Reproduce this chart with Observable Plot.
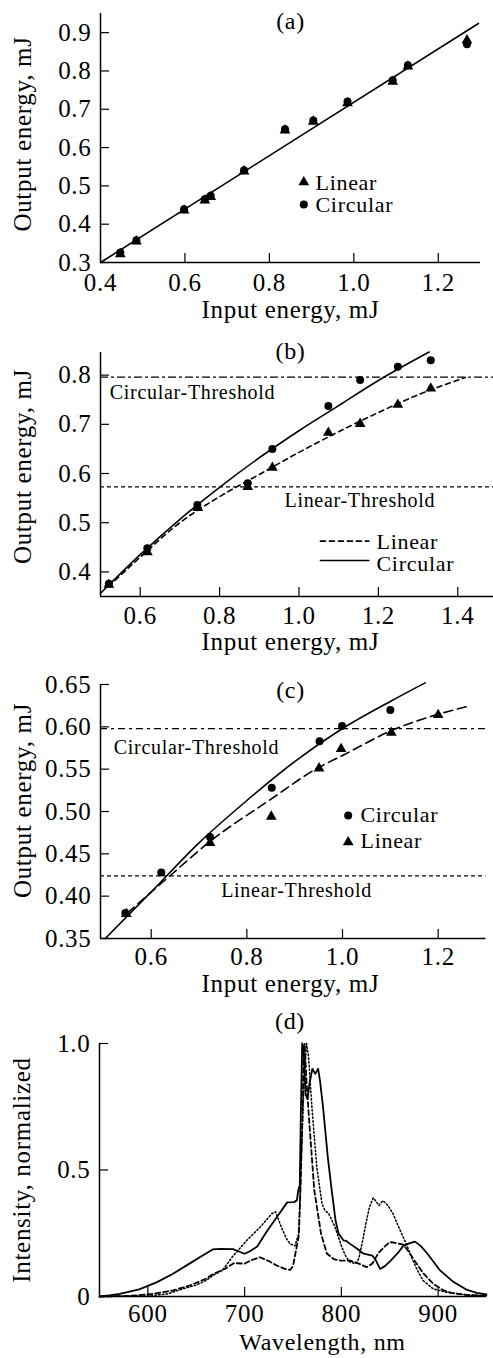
<!DOCTYPE html>
<html><head><meta charset="utf-8">
<script src="https://cdn.jsdelivr.net/npm/d3@7"></script>
<script src="https://cdn.jsdelivr.net/npm/@observablehq/plot@0.6"></script>
<style>
body{margin:0;background:#fff;}
#chart{width:493px;}
#chart svg{display:block;}
#chart svg text{letter-spacing:0.7px;}
</style>
</head><body><div id="chart"></div>
<script>
// ---------- Panel (a) data ----------
const aX      = [0.447,0.485,0.598,0.647,0.661,0.740,0.837,0.904,0.985,1.092,1.128,1.268];
const aLinY   = [0.322,0.355,0.436,0.462,0.471,0.538,0.645,0.668,0.716,0.772,0.812,0.880];
const aCirY   = [0.326,0.358,0.439,0.465,0.474,0.541,0.648,0.671,0.720,0.776,0.815,0.870];
const aFitX   = [0.4,1.295];
const aFitY   = [0.3,0.924];
const aXTicks = [0.4,0.6,0.8,1.0,1.2];
const aYTicks = [0.3,0.4,0.5,0.6,0.7,0.8,0.9];

// ---------- Panel (b) data ----------
const bCirX = [0.521,0.618,0.744,0.871,0.933,1.074,1.154,1.249,1.332];
const bCirY = [0.376,0.448,0.536,0.580,0.650,0.737,0.790,0.817,0.830];
const bLinX = [0.521,0.618,0.745,0.871,0.933,1.074,1.154,1.249,1.332];
const bLinY = [0.374,0.440,0.530,0.573,0.612,0.683,0.701,0.740,0.773];
const bCirFitX = [0.502,0.6,0.7,0.8,0.9,1.0,1.1,1.2,1.328];
const bCirFitY = [0.358,0.435,0.507,0.572,0.632,0.687,0.738,0.789,0.847];
const bLinFitX = [0.52,0.6,0.7,0.8,0.9,1.0,1.1,1.2,1.3,1.419];
const bLinFitY = [0.370,0.430,0.500,0.553,0.598,0.643,0.685,0.724,0.760,0.795];
const bThrCir = 0.796, bThrLin = 0.573;
const bXTicks = [0.6,0.8,1.0,1.2,1.4];
const bYTicks = [0.4,0.5,0.6,0.7,0.8];

// ---------- Panel (c) data ----------
const cCirX = [0.546,0.621,0.723,0.852,0.952,0.999,1.100];
const cCirY = [0.380,0.428,0.470,0.528,0.583,0.601,0.620];
const cLinX = [0.548,0.723,0.851,0.951,0.997,1.102,1.200];
const cLinY = [0.379,0.463,0.494,0.551,0.574,0.593,0.614];
const cCirFitX = [0.504,0.6,0.7,0.8,0.9,1.0,1.1,1.173];
const cCirFitY = [0.350,0.405,0.463,0.513,0.559,0.598,0.630,0.652];
const cLinFitX = [0.55,0.633,0.724,0.849,0.947,1.003,1.1,1.201,1.261];
const cLinFitY = [0.380,0.421,0.465,0.514,0.551,0.567,0.595,0.615,0.624];
const cThrCir = 0.598, cThrLin = 0.424;
const cXTicks = [0.6,0.8,1.0,1.2];
const cYTicks = [0.35,0.40,0.45,0.50,0.55,0.60,0.65];

// ---------- Panel (d) data ----------
const solidWl = [550,560,571,591,609,626,643,657,667,675,688,694,700,706,713,723,733,744,751,754,755.5,757,758,759.5,761,763,765,767,770,773,776,778,781,786,790,794,797,802,805,809,816,823,832,836,840,845,851,858,864,870,876,882,889,902,916,930,940,950];
const solidI  = [0,0.004,0.01,0.028,0.056,0.09,0.13,0.163,0.186,0.188,0.187,0.178,0.169,0.18,0.198,0.258,0.312,0.372,0.373,0.38,0.42,0.44,0.7,1.0,0.98,0.8,0.78,0.84,0.9,0.88,0.9,0.85,0.75,0.55,0.42,0.3,0.25,0.222,0.22,0.208,0.19,0.169,0.162,0.14,0.109,0.12,0.142,0.17,0.2,0.21,0.217,0.2,0.169,0.103,0.057,0.026,0.014,0.008];
const dashWl  = [550,580,605,626,643,660,668,680,689,700,708,716,725,733,741,747,750,753,756,758,759.7,761,762,764,767,772,779,785,792,799,809,818,826,832,838,844,850,856,864,870,875,885,895,905,915,930,950];
const dashI   = [0,0.002,0.01,0.024,0.043,0.07,0.09,0.11,0.132,0.13,0.145,0.155,0.14,0.123,0.11,0.105,0.12,0.18,0.24,0.45,0.7,0.97,1.0,0.85,0.68,0.42,0.248,0.17,0.148,0.142,0.142,0.13,0.116,0.13,0.17,0.195,0.215,0.212,0.205,0.175,0.145,0.09,0.05,0.025,0.013,0.006,0.003];
const dotWl   = [550,600,620,636,650,660,668,677,688,695,702,716,728,732,738,743,747,752,756,759,762,764,766,769.5,774.6,780,783,787,793.5,800.5,805,809,815,818,822,826,829,833,836,839,843,848,853.5,858,864,869,874,879,884.5,895,908,930,950];
const dotI    = [0,0.002,0.01,0.03,0.045,0.063,0.085,0.103,0.16,0.19,0.221,0.274,0.327,0.335,0.274,0.23,0.208,0.2,0.25,0.6,0.9,1.0,0.95,0.75,0.511,0.366,0.34,0.327,0.274,0.195,0.155,0.136,0.13,0.15,0.221,0.3,0.353,0.39,0.375,0.36,0.379,0.36,0.327,0.285,0.234,0.19,0.142,0.1,0.063,0.03,0.017,0.006,0.003];
const dXTicks = [600,700,800,900];
const dYTicks = [0,0.5,1.0];

// ---------- helpers ----------
const FONT = "'Liberation Serif','Times New Roman',Times,serif";
const W = 493;
const pts = (xs, ys) => xs.map((x, i) => ({x, y: ys[i]}));
const f1 = d3.format(".1f"), f2 = d3.format(".2f");

function frame({xd, yd, xt, yt, iw, ih, xfmt, yfmt, xpad}) {
  return [
    Plot.ruleX([xd[0]], {strokeWidth: 1.5}),
    Plot.ruleY([yd[0]], {strokeWidth: 1.5}),
    Plot.tickX(xt, {x: d => d, insetTop: ih - 9, strokeWidth: 1.2}),
    Plot.tickY(yt, {y: d => d, insetRight: iw - 9, strokeWidth: 1.2}),
    Plot.axisX(xt, {tickSize: 0, tickPadding: xpad, tickFormat: xfmt, fontSize: 25, label: null}),
    Plot.axisY(yt, {tickSize: 0, tickPadding: 9, tickFormat: yfmt, fontSize: 25, label: null})
  ];
}
function labels({xl, yl, xdx = 0, xdy, xfs = 25, ydy = 0, title, tdx = 0, tdy}) {
  return [
    Plot.text([xl], {frameAnchor: "bottom", textAnchor: "middle", lineAnchor: "bottom", dx: xdx, dy: xdy, fontSize: xfs}),
    Plot.text([yl], {frameAnchor: "left", textAnchor: "middle", rotate: -90, lineAnchor: "middle", dx: -78, dy: ydy, fontSize: 25}),
    Plot.text([title], {frameAnchor: "top", textAnchor: "middle", lineAnchor: "bottom", dx: tdx, dy: tdy, fontSize: 24})
  ];
}
const leg = (t, dx, dy) => Plot.text([t], {frameAnchor: "top-left", textAnchor: "start", lineAnchor: "bottom", dx, dy, fontSize: 22});
const thr = (t, dx, dy) => Plot.text([t], {frameAnchor: "top-left", textAnchor: "start", lineAnchor: "bottom", dx, dy, fontSize: 20});
const sym = (s, dx, dy) => Plot.dot([0], {frameAnchor: "top-left", dx, dy, symbol: s, r: 4, fill: "black", stroke: "none"});
const style = {fontFamily: FONT, background: "white", overflow: "visible", color: "black"};

// ---------- Panel (a) ----------
const A = {h: 330, mt: 13, mb: 68, ml: 100, mr: 13, xd: [0.4, 1.3], yd: [0.3, 0.95]};
const plotA = Plot.plot({
  width: W, height: A.h, marginTop: A.mt, marginBottom: A.mb, marginLeft: A.ml, marginRight: A.mr,
  x: {domain: A.xd}, y: {domain: A.yd}, style,
  marks: [
    ...frame({xd: A.xd, yd: A.yd, xt: aXTicks, yt: aYTicks, iw: W - A.ml - A.mr, ih: A.h - A.mt - A.mb, xfmt: f1, yfmt: f1, xpad: 10.5}),
    Plot.line(pts(aFitX, aFitY), {x: "x", y: "y", strokeWidth: 1.6}),
    Plot.dot(pts(aX, aLinY), {x: "x", y: "y", symbol: "triangle", r: 4, fill: "black"}),
    Plot.dot(pts(aX, aCirY), {x: "x", y: "y", symbol: "circle", r: 4, fill: "black"}),
    sym("triangle", 203.3, 168.7), leg("Linear", 215, 176),
    sym("circle", 203.3, 191), leg("Circular", 215, 198.7),
    ...labels({xl: "Input energy, mJ", yl: "Output energy, mJ", xdy: 55, ydy: -4, title: "(a)", tdy: 15.5})
  ]
});

// ---------- Panel (b) ----------
const B = {h: 330, mt: 22, mb: 64, ml: 100, mr: 0, xd: [0.5, 1.49], yd: [0.35, 0.846]};
const plotB = Plot.plot({
  width: W, height: B.h, marginTop: B.mt, marginBottom: B.mb, marginLeft: B.ml, marginRight: B.mr,
  x: {domain: B.xd}, y: {domain: B.yd}, style,
  marks: [
    ...frame({xd: B.xd, yd: B.yd, xt: bXTicks, yt: bYTicks, iw: W - B.ml - B.mr, ih: B.h - B.mt - B.mb, xfmt: f1, yfmt: f1, xpad: 9.5}),
    Plot.ruleY([bThrCir], {strokeWidth: 1.3, strokeDasharray: "8,3,3,3"}),
    Plot.ruleY([bThrLin], {strokeWidth: 1.3, strokeDasharray: "4,3"}),
    Plot.line(pts(bCirFitX, bCirFitY), {x: "x", y: "y", curve: "monotone-x", strokeWidth: 1.6}),
    Plot.line(pts(bLinFitX, bLinFitY), {x: "x", y: "y", curve: "monotone-x", strokeWidth: 1.6, strokeDasharray: "5,4"}),
    Plot.dot(pts(bLinX, bLinY), {x: "x", y: "y", symbol: "triangle", r: 4, fill: "black"}),
    Plot.dot(pts(bCirX, bCirY), {x: "x", y: "y", symbol: "circle", r: 4, fill: "black"}),
    thr("Circular-Threshold", 9.3, 46.3),
    thr("Linear-Threshold", 184, 154.7),
    Plot.line(pts([1.054, 1.176], [0.4625, 0.4625]), {x: "x", y: "y", strokeWidth: 1.6, strokeDasharray: "5,4"}),
    Plot.line(pts([1.054, 1.176], [0.4232, 0.4232]), {x: "x", y: "y", strokeWidth: 1.6}),
    leg("Linear", 276, 196.3), leg("Circular", 276, 218.7),
    ...labels({xl: "Input energy, mJ", yl: "Output energy, mJ", xdx: -6.5, xdy: 53, ydy: -8, title: "(b)", tdx: -6.5, tdy: 6.5})
  ]
});

// ---------- Panel (c) ----------
const C = {h: 340, mt: 24, mb: 62, ml: 100, mr: 7.5, xd: [0.494, 1.3], yd: [0.35, 0.65]};
const plotC = Plot.plot({
  width: W, height: C.h, marginTop: C.mt, marginBottom: C.mb, marginLeft: C.ml, marginRight: C.mr,
  x: {domain: C.xd}, y: {domain: C.yd}, style,
  marks: [
    ...frame({xd: C.xd, yd: C.yd, xt: cXTicks, yt: cYTicks, iw: W - C.ml - C.mr, ih: C.h - C.mt - C.mb, xfmt: f1, yfmt: f2, xpad: 9}),
    Plot.ruleY([cThrCir], {strokeWidth: 1.3, strokeDasharray: "7,4,3,4"}),
    Plot.ruleY([cThrLin], {strokeWidth: 1.3, strokeDasharray: "4,3"}),
    Plot.line(pts(cCirFitX, cCirFitY), {x: "x", y: "y", curve: "monotone-x", strokeWidth: 1.6}),
    Plot.line(pts(cLinFitX, cLinFitY), {x: "x", y: "y", curve: "monotone-x", strokeWidth: 1.6, strokeDasharray: "9,5"}),
    Plot.dot(pts(cLinX, cLinY), {x: "x", y: "y", symbol: "triangle", r: 4, fill: "black"}),
    Plot.dot(pts(cCirX, cCirY), {x: "x", y: "y", symbol: "circle", r: 4, fill: "black"}),
    thr("Circular-Threshold", 13.3, 69.3),
    thr("Linear-Threshold", 120.7, 212.7),
    sym("circle", 247.7, 131), leg("Circular", 260, 137.7),
    sym("triangle", 247.7, 157.7), leg("Linear", 260, 163.7),
    ...labels({xl: "Input energy, mJ", yl: "Output energy, mJ", xdx: -2.75, xdy: 53.4, ydy: -11, title: "(c)", tdx: -2.75, tdy: 13})
  ]
});

// ---------- Panel (d) ----------
const D = {h: 358, mt: 43, mb: 62, ml: 99, mr: 7, xd: [550, 950], yd: [0, 1]};
const plotD = Plot.plot({
  width: W, height: D.h, marginTop: D.mt, marginBottom: D.mb, marginLeft: D.ml, marginRight: D.mr,
  x: {domain: D.xd}, y: {domain: D.yd}, style,
  marks: [
    ...frame({xd: D.xd, yd: D.yd, xt: dXTicks, yt: dYTicks, iw: W - D.ml - D.mr, ih: D.h - D.mt - D.mb,
      xfmt: d3.format("d"), yfmt: d => d === 0 ? "0" : f1(d), xpad: 8}),
    Plot.line(pts(dotWl, dotI), {x: "x", y: "y", strokeWidth: 1.5, strokeDasharray: "1.5,2.2"}),
    Plot.line(pts(dashWl, dashI), {x: "x", y: "y", strokeWidth: 1.8, strokeDasharray: "5,3"}),
    Plot.line(pts(solidWl, solidI), {x: "x", y: "y", strokeWidth: 1.8}),
    ...labels({xl: "Wavelength, nm", yl: "Intensity, normalized", xdx: 29.5, xdy: 53.5, xfs: 24, ydy: 0, title: "(d)", tdx: -3, tdy: -14.5})
  ]
});

document.getElementById("chart").append(plotA, plotB, plotC, plotD);
</script></body></html>
